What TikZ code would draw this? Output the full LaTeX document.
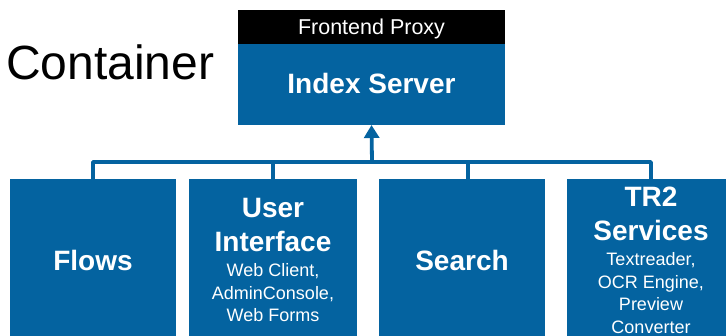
\documentclass[tikz,border=0pt]{standalone}
\usepackage{fontspec}
\setmainfont{Liberation Sans}
\usetikzlibrary{arrows.meta}
\definecolor{boxblue}{RGB}{4,99,160}
\tikzset{
  box/.style={rectangle, fill=boxblue, draw=none, inner sep=0pt, outer sep=0pt, text=white, align=center},
  proxybox/.style={rectangle, fill=black, inner sep=0pt, outer sep=0pt, text=white},
  bus/.style={draw=boxblue, line width=3.8pt, line join=round},
  titlefont/.style={font=\fontsize{28}{34}\selectfont\bfseries},
}
\newcommand{\ttl}{\fontsize{28}{34}\selectfont\bfseries}
\newcommand{\subt}{\par\vspace{3pt}\fontsize{18}{22.5}\selectfont\mdseries}
\begin{document}
\begin{tikzpicture}[x=1pt,y=-1pt]
\useasboundingbox (0,0) rectangle (726,335);
\clip (0,0) rectangle (726,335);
% title
\node[anchor=base west, inner sep=0pt, font=\fontsize{48}{56}\selectfont] (title) at (6,79) {Container};
% top boxes
\node[proxybox, minimum width=267pt, minimum height=34pt, text depth=0pt, font=\fontsize{21.5}{26}\selectfont] (proxy) at (371.5,27) {Frontend Proxy};
\node[box, minimum width=267pt, minimum height=81pt, text depth=3pt, titlefont] (index) at (371.5,84.5) {Index Server};
% bottom boxes
\node[box, minimum width=166pt, minimum height=162pt, titlefont] (flows) at (93,260) {Flows};
\node[box, minimum width=168pt, minimum height=162pt] (ui) at (273,260)
  {\parbox{164pt}{\centering\ttl User\par Interface\subt Web Client,\par AdminConsole,\par Web Forms\par}};
\node[box, minimum width=166pt, minimum height=162pt, titlefont] (search) at (462,260) {Search};
\node[box, minimum width=168pt, minimum height=162pt] (tr2) at (651,260)
  {\parbox{164pt}{\centering\ttl TR2\par Services\subt Textreader,\par OCR Engine,\par Preview\par Converter\par}};
% connectors
\coordinate (bus) at (372,162);
\draw[bus] (flows.north) |- (tr2.north |- bus) -- (tr2.north);
\draw[bus] (ui.north) -- (ui.north |- bus);
\draw[bus] ([xshift=6pt]search.north) -- ([xshift=6pt]search.north |- bus);
\draw[bus, -{Triangle[width=15pt,length=13pt]}] (bus) -- (index.south);
\end{tikzpicture}
\end{document}
